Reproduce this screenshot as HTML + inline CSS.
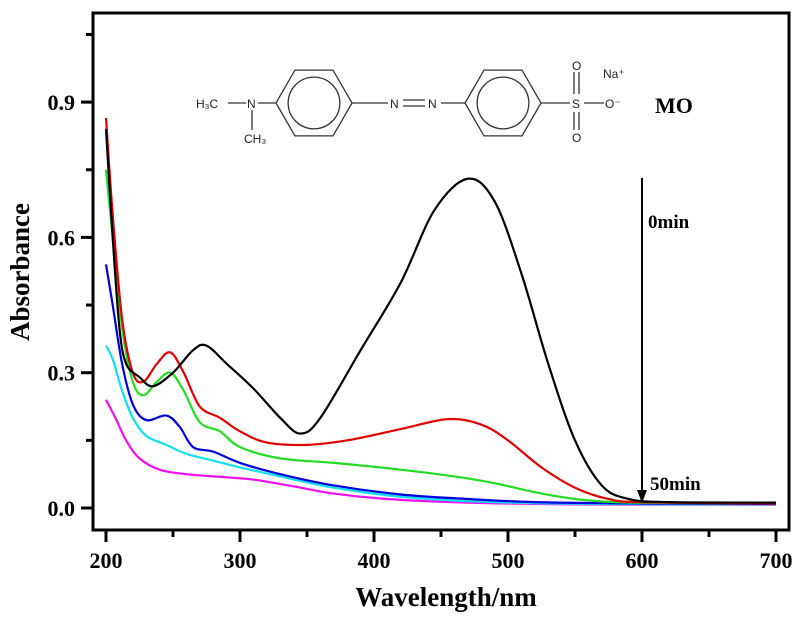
<!DOCTYPE html>
<html><head><meta charset="utf-8"><style>
body{margin:0;background:#fff;}
svg text{font-family:"Liberation Serif",serif;}
</style></head><body>
<svg id="chart" width="800" height="619" viewBox="0 0 800 619" xmlns="http://www.w3.org/2000/svg">
<g id="axes"></g>
<g id="series"></g>
<g id="molecule" font-size="12" fill="#222" stroke="#333" stroke-width="1.3">
</g>
<text x="655" y="113" font-size="22" font-weight="bold">MO</text>
<line x1="642" y1="178" x2="642" y2="492" stroke="#000" stroke-width="2"/>
<polygon points="637,490 647,490 642,503" fill="#000"/>
<text x="648" y="228" font-size="19" font-weight="bold">0min</text>
<text x="650" y="490" font-size="19" font-weight="bold">50min</text>
</svg>
<script>
const xTicks=[200,300,400,500,600,700];
const yTicks=[0.0,0.3,0.6,0.9];
const yTickLabels=["0.0","0.3","0.6","0.9"];
const wl0=[200,205,210,215,225,235,250,265,275,290,310,330,345,360,390,420,445,470,490,510,530,550,570,590,620,700];
const abs0=[0.84,0.6,0.4,0.32,0.29,0.27,0.30,0.35,0.36,0.32,0.265,0.2,0.165,0.2,0.35,0.5,0.66,0.73,0.68,0.52,0.32,0.15,0.05,0.02,0.013,0.012];
const wl1=[200,205,212,220,228,238,248,258,270,285,300,320,350,380,420,455,480,500,525,550,575,600,700];
const abs1=[0.865,0.65,0.42,0.3,0.28,0.32,0.345,0.3,0.225,0.2,0.17,0.145,0.14,0.15,0.175,0.197,0.185,0.15,0.09,0.045,0.02,0.013,0.01];
const wl2=[200,205,212,220,228,238,248,258,270,285,300,330,370,420,460,490,520,550,580,620,700];
const abs2=[0.75,0.6,0.4,0.28,0.25,0.28,0.3,0.26,0.19,0.17,0.135,0.11,0.1,0.085,0.07,0.055,0.035,0.02,0.013,0.011,0.01];
const wl3=[200,205,212,220,230,245,255,265,280,300,330,370,420,470,520,600,700];
const abs3=[0.54,0.45,0.32,0.23,0.195,0.205,0.18,0.135,0.125,0.1,0.075,0.05,0.03,0.02,0.013,0.01,0.009];
const wl4=[200,205,212,220,230,245,260,280,300,330,370,420,480,560,700];
const abs4=[0.36,0.33,0.26,0.2,0.16,0.14,0.12,0.105,0.09,0.07,0.045,0.025,0.014,0.009,0.008];
const wl5=[200,207,215,225,240,260,290,310,340,370,410,470,550,700];
const abs5=[0.24,0.2,0.15,0.11,0.085,0.075,0.068,0.063,0.048,0.032,0.02,0.012,0.008,0.007];
const seriesList=[[wl0,abs0,"#000","black-0min"],[wl1,abs1,"#e00000","red-10min"],[wl2,abs2,"#22dd22","green-20min"],[wl3,abs3,"#0000dd","blue-30min"],[wl4,abs4,"#11e0ee","cyan-40min"],[wl5,abs5,"#ee11ee","magenta-50min"]];
const sx=v=>106+(v-200)*1.34;
const sy=v=>508-v*451;
const NS="http://www.w3.org/2000/svg";
function mk(t,a,p){const e=document.createElementNS(NS,t);for(const k in a)e.setAttribute(k,a[k]);p.appendChild(e);return e;}
const ax=document.getElementById('axes');
let fr=mk('rect',{x:93,y:13,width:696,height:517,fill:'none',stroke:'#000','stroke-width':3},ax);

xTicks.forEach((v,i)=>{const x=sx(v);
 let t=mk('line',{x1:x,x2:x,y1:530,y2:542,stroke:'#000','stroke-width':3},ax);
 
 if(i<xTicks.length-1){let m=mk('line',{x1:sx(v+50),x2:sx(v+50),y1:530,y2:537,stroke:'#000','stroke-width':3},ax);
 }
 let l=mk('text',{x:x,y:568,'font-size':22,'font-weight':'bold','text-anchor':'middle'},ax);l.textContent=v;
 });
yTicks.forEach((v,i)=>{const y=sy(v);
 let t=mk('line',{x1:81,x2:93,y1:y,y2:y,stroke:'#000','stroke-width':3},ax);
 
 let m=mk('line',{x1:86,x2:93,y1:sy(v+0.15),y2:sy(v+0.15),stroke:'#000','stroke-width':3},ax);
 
 let l=mk('text',{x:75,y:y+8,'font-size':22,'font-weight':'bold','text-anchor':'end'},ax);l.textContent=yTickLabels[i];
 });
let xt=mk('text',{x:446,y:606,'font-size':27,'font-weight':'bold','text-anchor':'middle'},ax);xt.textContent='Wavelength/nm';

let yt=mk('text',{x:0,y:0,'font-size':27,'font-weight':'bold','text-anchor':'middle',transform:'translate(29,272) rotate(-90)'},ax);yt.textContent='Absorbance';

function smooth(pts){let d='M'+pts[0][0]+','+pts[0][1];for(let i=0;i<pts.length-1;i++){const p0=pts[i-1]||pts[i],p1=pts[i],p2=pts[i+1],p3=pts[i+2]||p2;
 d+=' C'+(p1[0]+(p2[0]-p0[0])/6)+','+(p1[1]+(p2[1]-p0[1])/6)+' '+(p2[0]-(p3[0]-p1[0])/6)+','+(p2[1]-(p3[1]-p1[1])/6)+' '+p2[0]+','+p2[1];}return d;}
const sg=document.getElementById('series');
seriesList.slice().reverse().forEach(s=>{const pts=s[0].map((w,i)=>[sx(w),sy(s[1][i])]);
 let p=mk('path',{d:smooth(pts),fill:'none',stroke:s[2],'stroke-width':2.2},sg);
 });
const mg=document.getElementById('molecule');
function hex(cx,cy,r){let pts=[];for(let i=0;i<6;i++){const a=Math.PI/3*i;pts.push((cx+r*Math.cos(a))+','+(cy+r*Math.sin(a)));}
 let h=mk('polygon',{points:pts.join(' '),fill:'none'},mg);
 let c=mk('circle',{cx:cx,cy:cy,r:r*0.68,fill:'none'},mg);}
hex(314,103,38);hex(503,103,38);
[[228,103,246,103],[258,103,276,103],[252,110,252,130],[352,103,388,103],[403,100,425,100],[403,106,425,106],[441,103,465,103],[541,103,570,103],[584,103,604,103],[574,72,574,94],[579,72,579,94],[574,112,574,130],[579,112,579,130]].forEach(a=>{
 let l=mk('line',{x1:a[0],y1:a[1],x2:a[2],y2:a[3]},mg);});
[[196,108,'H₃C'],[247,108,'N'],[244,143,'CH₃'],[390,108,'N'],[428,108,'N'],[572,108,'S'],[572,70,'O'],[572,142,'O'],[605,108,'O⁻'],[603,78,'Na⁺']].forEach(a=>{
 let t=mk('text',{x:a[0],y:a[1],stroke:'none',style:'font-family:"Liberation Sans",sans-serif'},mg);t.textContent=a[2];
 });
</script>
</body></html>
